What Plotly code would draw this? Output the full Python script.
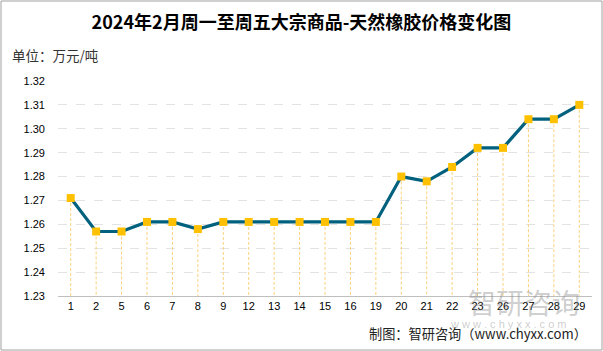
import plotly.graph_objects as go

categories = ["1", "2", "5", "6", "7", "8", "9", "12", "13", "14", "15", "16", "19", "20", "21", "22", "23", "26", "27", "28", "29"]
prices = [1.271, 1.257, 1.257, 1.261, 1.261, 1.258, 1.261, 1.261, 1.261, 1.261, 1.261, 1.261, 1.261, 1.280, 1.278, 1.284, 1.292, 1.292, 1.304, 1.304, 1.310]
y_ticks = [1.23, 1.24, 1.25, 1.26, 1.27, 1.28, 1.29, 1.30, 1.31, 1.32]
y_min, y_max = 1.23, 1.32

title = "2024年2月周一至周五大宗商品-天然橡胶价格变化图"
unit = "单位：万元/吨"
source = "制图：智研咨询（www.chyxx.com）"

CJK = "Noto Sans CJK SC"
LAT = "Liberation Sans"

drop_x, drop_y = [], []
for c, v in zip(categories, prices):
    drop_x += [c, c, None]
    drop_y += [v, y_min, None]

fig = go.Figure()
fig.add_trace(go.Scatter(x=drop_x, y=drop_y, mode="lines",
                         line=dict(color="#FAD27A", width=1, dash="3px,2px"),
                         hoverinfo="skip", showlegend=False))
fig.add_trace(go.Scatter(x=categories, y=prices, mode="lines+markers",
                         line=dict(color="#00617F", width=3.2),
                         marker=dict(symbol="square", size=8, color="#FFC000"),
                         showlegend=False))

fig.update_layout(
    width=603, height=351,
    margin=dict(l=58, r=11, t=81, b=55),
    paper_bgcolor="white", plot_bgcolor="white",
    font=dict(family=LAT, color="#000000", size=11),
    title=dict(text="<b>" + title + "</b>", x=0.5, xanchor="center", y=0.934, yanchor="middle",
               font=dict(family=CJK, size=18, color="#000000")),
    xaxis=dict(type="category", categoryorder="array", categoryarray=categories,
               showgrid=False, showline=True, linecolor="#BFBFBF", linewidth=1,
               ticks="", tickfont=dict(family=LAT, size=11, color="#000000"),
               range=[-0.5, len(categories) - 0.5]),
    yaxis=dict(range=[y_min, y_max], tickvals=y_ticks, ticktext=[f"{t:.2f}" for t in y_ticks],
               showgrid=True, gridcolor="#E3E3E3", griddash="dash", gridwidth=1,
               zeroline=False, showline=False, ticks="", ticklabelstandoff=12,
               tickfont=dict(family=LAT, size=11, color="#000000")),
    annotations=[
        dict(text=unit, xref="paper", yref="paper", x=-0.090, y=1.121, xanchor="left", yanchor="middle",
             showarrow=False, font=dict(family=CJK, size=13.5, color="#333333")),
        dict(text="智研咨询", xref="paper", yref="paper", x=0.873, y=-0.03, xanchor="center", yanchor="middle",
             showarrow=False, font=dict(family=CJK, size=28, color="rgba(130,130,130,0.40)")),
        dict(text="w w w . c h y x x . c o m", xref="paper", yref="paper", x=0.844, y=-0.13, xanchor="center",
             yanchor="middle", showarrow=False, font=dict(family=LAT, size=11, color="rgba(130,130,130,0.40)")),
        dict(text=source, xref="paper", yref="paper", x=0.994, y=-0.173, xanchor="right", yanchor="middle",
             showarrow=False, font=dict(family=CJK, size=13.2, color="#222222")),
    ],
    shapes=[dict(type="rect", xref="paper", yref="paper", x0=-57/534, x1=1 + 10/534,
                 y0=-54/215, y1=1 + 80/215, line=dict(color="#A0A0A0", width=1))],
)

fig.write_html("out.html")
